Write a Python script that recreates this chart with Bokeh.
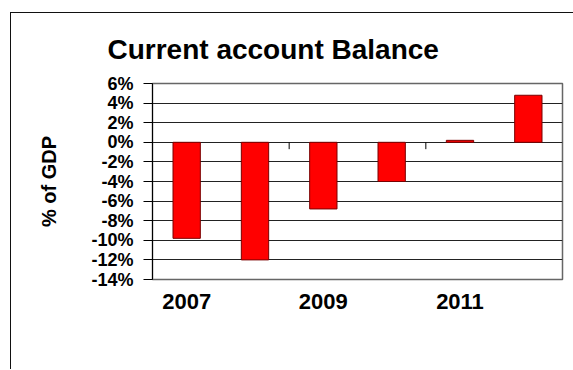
from bokeh.plotting import figure
from bokeh.models import Range1d, FixedTicker, PrintfTickFormatter, ColumnDataSource
from bokeh.embed import file_html
from bokeh.resources import INLINE

# Data
years = [2007, 2008, 2009, 2010, 2011, 2012]
balance_pct = [-9.8, -12.0, -6.8, -4.0, 0.2, 4.8]
x_tick_years = [2007, 2009, 2011]
y_ticks = [-14, -12, -10, -8, -6, -4, -2, 0, 2, 4, 6]
title_text = "Current account Balance"
y_label = "% of GDP"

FONT = "Liberation Sans"

p = figure(width=563, height=357, output_backend="svg", toolbar_location=None,
           x_range=Range1d(years[0] - 0.5, years[-1] + 0.5),
           y_range=Range1d(y_ticks[0], y_ticks[-1]),
           min_border_left=141, min_border_right=12,
           min_border_top=70, min_border_bottom=91)

p.margin = (12, 0, 0, 10)
p.styles = {"border-top": "1px solid #111", "border-left": "1px solid #111"}

p.background_fill_color = "white"
p.border_fill_color = "white"
p.outline_line_color = "#666666"
p.outline_line_width = 1.5

# Title
p.title.text = title_text
p.title.text_font = FONT
p.title.text_font_size = "28px"
p.title.text_font_style = "bold"
p.title.text_color = "black"
p.title.align = "left"
p.title.offset = -45
p.title.standoff = 37

# Grid
p.xgrid.visible = False
p.ygrid.ticker = FixedTicker(ticks=y_ticks)
p.ygrid.grid_line_color = "#222222"
p.ygrid.grid_line_width = 1

# Y axis
yax = p.yaxis[0]
yax.ticker = FixedTicker(ticks=y_ticks)
yax.formatter = PrintfTickFormatter(format="%d%%")
yax.major_label_text_font = FONT
yax.major_label_text_font_size = "18px"
yax.major_label_text_font_style = "bold"
yax.major_label_text_color = "black"
yax.major_tick_out = 9
yax.major_tick_in = 0
yax.minor_tick_out = 0
yax.minor_tick_in = 0
yax.major_label_standoff = 10
yax.axis_line_color = "black"
yax.major_tick_line_color = "black"
yax.axis_label = y_label
yax.axis_label_text_font = FONT
yax.axis_label_text_font_size = "20px"
yax.axis_label_text_font_style = "bold"
yax.axis_label_text_color = "black"
yax.axis_label_standoff = 28

# X axis
xax = p.xaxis[0]
xax.ticker = FixedTicker(ticks=x_tick_years)
xax.major_label_text_font = FONT
xax.major_label_text_font_size = "22px"
xax.major_label_text_font_style = "bold"
xax.major_label_text_color = "black"
xax.axis_line_color = None
xax.major_tick_line_color = None
xax.minor_tick_line_color = None
xax.major_tick_out = 0
xax.major_label_standoff = 14

# Bars
src = ColumnDataSource(dict(year=years, value=balance_pct))
p.vbar(x="year", top="value", bottom=0, width=0.4, source=src,
       fill_color="#ff0000", line_color="#7a0000", line_width=1)

# small category tick marks hanging from zero line (between category pairs)
boundary_x = [years[1] + 0.5, years[3] + 0.5]
p.segment(x0=boundary_x, y0=[0, 0], x1=boundary_x, y1=[-0.7, -0.7],
          line_color="black", line_width=1)

open("out.html", "w").write(file_html(p, INLINE))
